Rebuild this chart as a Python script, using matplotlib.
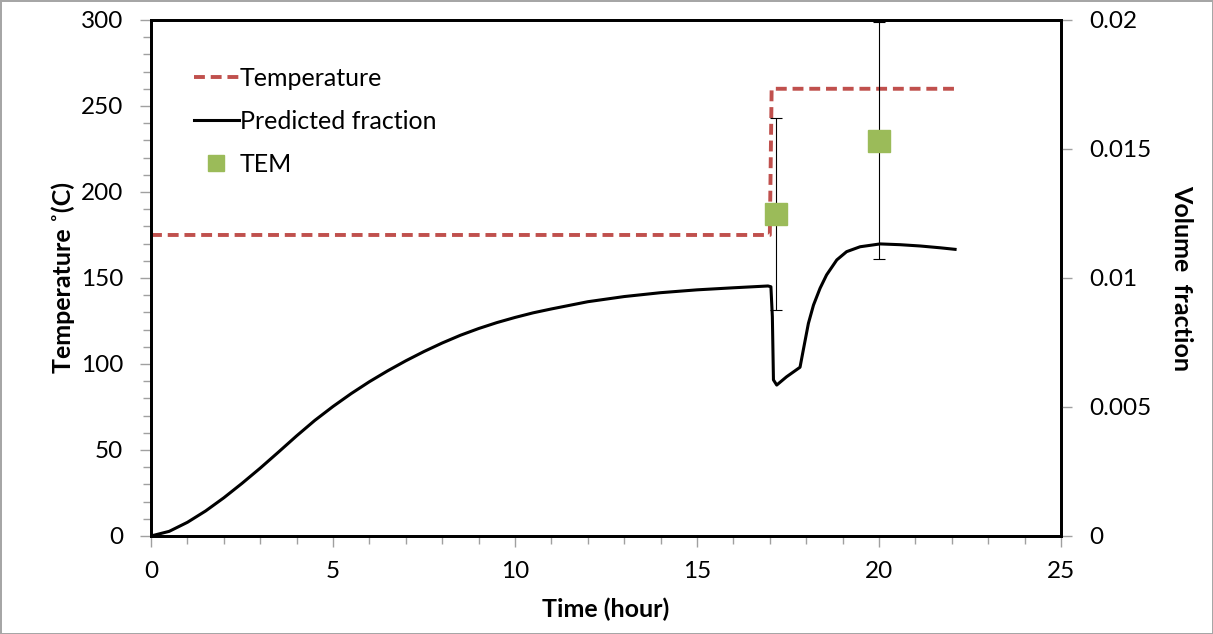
import matplotlib
matplotlib.use('Agg')
from matplotlib import pyplot as plt
from matplotlib.ticker import MultipleLocator
from matplotlib.lines import Line2D

plt.rcParams['font.family'] = ['Lato', 'DejaVu Sans']

# temperature profile (left axis)
temp_time = [0, 17.0, 17.05, 22.1]
temp_value = [175, 175, 260, 260]

pred_time = [0, 0.5, 1.0, 1.5, 2.0, 2.5, 3.0, 3.5, 4.0, 4.5, 5.0, 5.5, 6.0, 6.5,
             7.0, 7.5, 8.0, 8.5, 9.0, 9.5, 10.0, 10.5, 11.0, 12.0, 13.0, 14.0,
             15.0, 16.0, 16.95, 17.03, 17.07, 17.10, 17.19, 17.46, 17.83, 17.92,
             18.06, 18.20, 18.38, 18.56, 18.84, 19.11, 19.48, 20.03, 20.58, 21.13,
             21.68, 22.09]
pred_1e4 = [0, 1.8, 5.3, 9.7, 14.8, 20.4, 26.3, 32.5, 38.8, 44.8, 50.2, 55.2, 59.8,
            64.0, 67.9, 71.5, 74.8, 77.8, 80.4, 82.7, 84.7, 86.5, 88.0, 90.8, 92.8,
            94.3, 95.4, 96.2, 96.9, 96.6, 85.0, 60.5, 58.5, 61.7, 65.4, 72.1, 82.4,
            89.5, 96.0, 101.2, 107.0, 110.2, 112.1, 113.2, 112.9, 112.4, 111.7, 111.1]
pred_value = [v * 1e-4 for v in pred_1e4]

# TEM measurements
tem_time = [17.18, 20.0]
tem_value = [0.01247, 0.01532]
tem_err = [0.00373, 0.0046]

fig = plt.figure(figsize=(12.13, 6.34), dpi=100)
fig.patch.set_edgecolor('#a6a6a6')
fig.patch.set_linewidth(2)
ax1 = fig.add_axes([0.1245, 0.1546, 0.7502, 0.8139])
ax2 = ax1.twinx()

red = '#C0504D'
green = '#9BBB59'
dash = (0, (2.8, 1.5))

ax1.plot(temp_time, temp_value, color=red, lw=2.8, ls=dash)
ax2.plot(pred_time, pred_value, color='black', lw=2.2)
ax2.errorbar(tem_time, tem_value, yerr=tem_err, fmt='none', ecolor='black',
             elinewidth=0.8, capsize=4, capthick=0.8)
ax2.plot(tem_time, tem_value, 's', color=green, ms=16, ls='none')

ax1.set_xlim(0, 25)
ax1.set_ylim(0, 300)
ax2.set_ylim(0, 0.02)
ax1.xaxis.set_major_locator(MultipleLocator(5))
ax1.xaxis.set_minor_locator(MultipleLocator(1))
ax1.yaxis.set_major_locator(MultipleLocator(50))
ax1.yaxis.set_minor_locator(MultipleLocator(10))
ax2.set_yticks([0, 0.005, 0.01, 0.015, 0.02])
ax2.set_yticklabels(['0', '0.005', '0.01', '0.015', '0.02'])

for ax in (ax1, ax2):
    for s in ax.spines.values():
        s.set_color('black')
        s.set_linewidth(2)

ax1.tick_params(axis='both', which='major', direction='out', length=8, width=1,
                color='#a0a0a0', labelsize=17.5, pad=12)
ax1.tick_params(axis='both', which='minor', direction='out', length=6, width=1,
                color='#a0a0a0')
ax1.tick_params(axis='x', pad=10)
ax2.tick_params(axis='y', which='major', direction='out', length=8, width=1,
                color='#a0a0a0', labelsize=17.5, pad=12)

ax1.set_xlabel('Time (hour)', fontsize=18, fontweight='bold', labelpad=11)
ax1.set_ylabel('Temperature ˚(C)', fontsize=18, fontweight='bold', labelpad=4.5)
ax2.set_ylabel('Volume  fraction', fontsize=18, fontweight='bold', rotation=270,
               labelpad=30)

handles = [Line2D([], [], color=red, lw=2.8, ls=dash),
           Line2D([], [], color='black', lw=2.2),
           Line2D([], [], marker='s', color=green, ms=11, ls='none')]
ax2.legend(handles, ['Temperature', 'Predicted fraction', 'TEM'], loc='upper left',
           bbox_to_anchor=(0.022, 0.953), frameon=False, fontsize=18,
           handlelength=1.8, handletextpad=0.05, labelspacing=0.81)

fig.savefig('out.png', dpi=100)
